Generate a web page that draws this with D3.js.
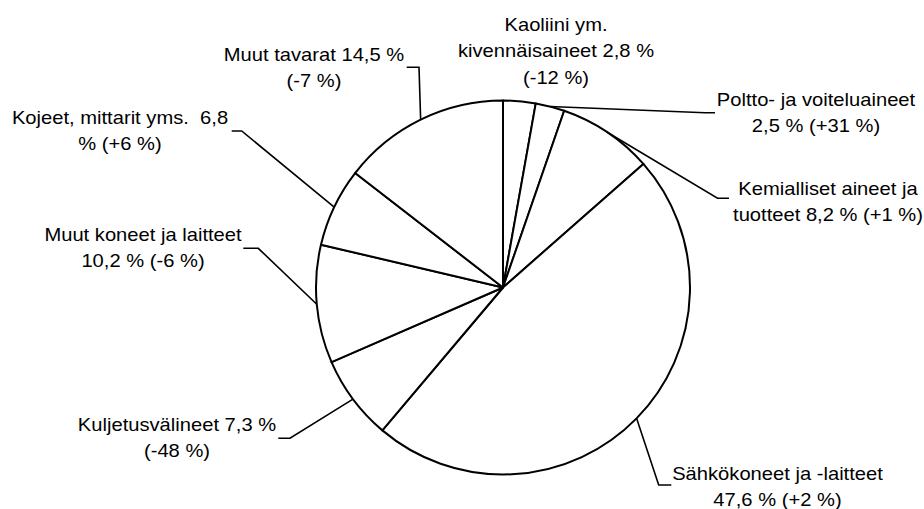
<!DOCTYPE html>
<html>
<head>
<meta charset="utf-8">
<script src="https://cdn.jsdelivr.net/npm/d3@7"></script>
<style>
  body { margin: 0; background: #fff; }
  text { font-family: "Liberation Sans", Arial, sans-serif; fill: #000; white-space: pre; }
</style>
</head>
<body>
<div id="chart-area"></div>
<script>
// data
var categories = ['Kaoliini ym. kivennäisaineet', 'Poltto- ja voiteluaineet', 'Kemialliset aineet ja tuotteet',
    'Sähkökoneet ja -laitteet', 'Kuljetusvälineet', 'Muut koneet ja laitteet', 'Kojeet, mittarit yms.', 'Muut tavarat'];
var shares = [2.8, 2.5, 8.2, 47.6, 7.3, 10.2, 6.8, 14.5];
var changes = ['-12', '+31', '+1', '+2', '-48', '-6', '+6', '-7'];
// label text as wrapped in the original
var labelLines = [
    ['Kaoliini ym.', 'kivennäisaineet 2,8 %', '(-12 %)'],
    ['Poltto- ja voiteluaineet', '2,5 % (+31 %)'],
    ['Kemialliset aineet ja', 'tuotteet 8,2 % (+1 %)'],
    ['Sähkökoneet ja -laitteet', '47,6 % (+2 %)'],
    ['Kuljetusvälineet 7,3 %', '(-48 %)'],
    ['Muut koneet ja laitteet', '10,2 % (-6 %)'],
    ['Kojeet, mittarit yms.  6,8', '% (+6 %)'],
    ['Muut tavarat 14,5 %', '(-7 %)']
];

// layout
var def = {
    width: 924,
    height: 509,
    cx: 503,
    cy: 287.5,
    r: 187,
    fontSize: 18,
    stretch: 1.12,
    lineH: 26.5
};
// label centre x, first baseline y, leader elbow and end (null = no leader)
var labelPos = [
    { x: 556, y: 31, elbow: null, end: null },
    { x: 816, y: 105.5, elbow: [705, 112.7], end: [715, 112.7] },
    { x: 828, y: 194.5, elbow: [717.5, 198.3], end: [729, 198.3] },
    { x: 777.5, y: 480, elbow: [658.7, 485], end: [671.3, 485] },
    { x: 177, y: 430.5, elbow: [290, 438.3], end: [278.3, 438.3] },
    { x: 143, y: 240.5, elbow: [258.3, 248.3], end: [243.3, 248.3] },
    { x: 120, y: 124, elbow: [241.7, 131], end: [231.7, 131] },
    { x: 314, y: 60.5, elbow: [419, 67.3], end: [406.7, 67.3] }
];

var svg = d3.select('#chart-area').append('svg')
    .attr('width', def.width)
    .attr('height', def.height);

var pie = d3.pie().sort(null).value(d => d);
var arcs = pie(shares);
var arc = d3.arc().innerRadius(0).outerRadius(def.r);

var g = svg.append('g')
    .attr('transform', 'translate(' + def.cx + ',' + def.cy + ')');

g.selectAll('path.slice')
    .data(arcs)
    .enter()
    .append('path')
    .attr('class', 'slice')
    .attr('d', arc)
    .attr('fill', '#fff')
    .attr('stroke', '#000')
    .attr('stroke-width', 2)
    .attr('stroke-linejoin', 'round');

// leader lines from the middle of each slice's arc
var line = d3.line();
arcs.forEach((a, i) => {
    var p = labelPos[i];
    if (!p.elbow) return;
    var mid = (a.startAngle + a.endAngle) / 2;
    var anchor = [def.cx + def.r * Math.sin(mid), def.cy - def.r * Math.cos(mid)];
    svg.append('path')
        .attr('d', line([anchor, p.elbow, p.end]))
        .attr('fill', 'none')
        .attr('stroke', '#000')
        .attr('stroke-width', 1.6);
});

// labels
labelLines.forEach((lines, i) => {
    var p = labelPos[i];
    var t = svg.append('g')
        .attr('transform', 'translate(' + p.x + ',' + p.y + ') scale(' + def.stretch + ',1)')
        .append('text')
        .attr('text-anchor', 'middle')
        .attr('font-size', def.fontSize);
    lines.forEach((l, j) => {
        t.append('tspan')
            .attr('x', 0)
            .attr('y', j * def.lineH)
            .text(l);
    });
});
</script>
</body>
</html>
